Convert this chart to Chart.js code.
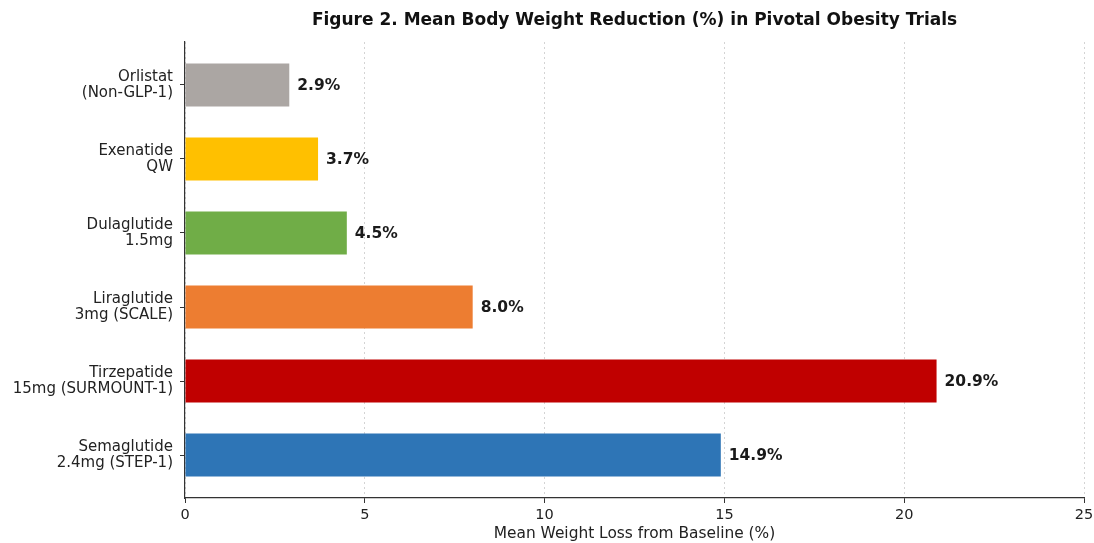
<!DOCTYPE html>
<html>
<head>
<meta charset="utf-8">
<script src="https://cdn.jsdelivr.net/npm/chart.js@4.4.1/dist/chart.umd.min.js"></script>
<style>
  html, body { margin: 0; padding: 0; background: #ffffff; }
  #wrap { width: 1094px; height: 543px; }
</style>
</head>
<body>
<div id="wrap"><canvas id="c" width="1094" height="543"></canvas></div>
<script>
const categories = [
  ["Orlistat", "(Non-GLP-1)"],
  ["Exenatide", "QW"],
  ["Dulaglutide", "1.5mg"],
  ["Liraglutide", "3mg (SCALE)"],
  ["Tirzepatide", "15mg (SURMOUNT-1)"],
  ["Semaglutide", "2.4mg (STEP-1)"]
];
const weightLoss = [2.9, 3.7, 4.5, 8.0, 20.9, 14.9];
const barColors = ["#ABA6A3", "#FFC000", "#70AD47", "#ED7D31", "#C00000", "#2E75B6"];
const xTicks = [0, 5, 10, 15, 20, 25];
const titleText = "Figure 2. Mean Body Weight Reduction (%) in Pivotal Obesity Trials";
const xTitle = "Mean Weight Loss from Baseline (%)";

const FONT = "'DejaVu Sans', sans-serif";

const valueLabels = {
  id: 'valueLabels',
  afterDatasetsDraw(chart) {
    const ctx = chart.ctx;
    const meta = chart.getDatasetMeta(0);
    ctx.save();
    ctx.font = "bold 15.5px " + FONT;
    ctx.fillStyle = "#1a1a1a";
    ctx.textAlign = "left";
    ctx.textBaseline = "middle";
    meta.data.forEach((el, i) => {
      ctx.fillText(weightLoss[i].toFixed(1) + "%", el.x + 8, el.y + 1);
    });
    ctx.restore();
  }
};

const titlePlugin = {
  id: 'titlePlugin',
  afterDraw(chart) {
    const ctx = chart.ctx;
    const a = chart.chartArea;
    ctx.save();
    ctx.font = "bold 17px " + FONT;
    ctx.fillStyle = "#111111";
    ctx.textAlign = "center";
    ctx.textBaseline = "middle";
    ctx.fillText(titleText, (a.left + a.right) / 2, 21);
    ctx.restore();
  }
};

new Chart(document.getElementById('c'), {
  type: 'bar',
  data: {
    datasets: [{
      data: weightLoss.map((v, i) => ({ x: v, y: i })),
      backgroundColor: barColors,
      borderWidth: 0,
      barPercentage: 0.58,
      categoryPercentage: 1.0
    }]
  },
  options: {
    indexAxis: 'y',
    responsive: false,
    animation: false,
    devicePixelRatio: 1,
    layout: { padding: { top: 42, right: 10, left: 0, bottom: 0 } },
    plugins: {
      legend: { display: false },
      title: { display: false },
      tooltip: { enabled: false }
    },
    scales: {
      x: {
        type: 'linear',
        min: 0,
        max: 25,
        afterBuildTicks: (s) => { s.ticks = xTicks.map(v => ({ value: v })); },
        afterFit: (s) => { s.height = 45; s.paddingRight = 0; s.paddingLeft = 0; },
        grid: {
          drawOnChartArea: true,
          color: '#d4d4d4',
          lineWidth: 1,
          tickLength: 5,
          tickColor: '#333333'
        },
        border: { display: true, color: '#333333', width: 1.2, dash: [2, 3] },
        ticks: {
          font: { family: FONT, size: 14.5 },
          color: '#222222',
          padding: 4,
          maxRotation: 0
        },
        title: {
          display: true,
          text: xTitle,
          font: { family: FONT, size: 15.4 },
          color: '#222222',
          padding: { top: 0, bottom: 0 }
        }
      },
      y: {
        type: 'linear',
        offset: false,
        min: -0.58,
        max: 5.58,
        reverse: true,
        afterBuildTicks: (s) => { s.ticks = categories.map((_, i) => ({ value: i })); },
        afterFit: (s) => { s.width = 185; },
        grid: {
          offset: false,
          drawOnChartArea: false,
          tickLength: 5,
          tickColor: '#333333'
        },
        border: { display: true, color: '#333333', width: 1.2 },
        ticks: {
          font: { family: FONT, size: 15, lineHeight: 1.07 },
          color: '#222222',
          padding: 7,
          callback: (v) => categories[v] || ''
        }
      }
    }
  },
  plugins: [valueLabels, titlePlugin]
});
</script>
</body>
</html>
